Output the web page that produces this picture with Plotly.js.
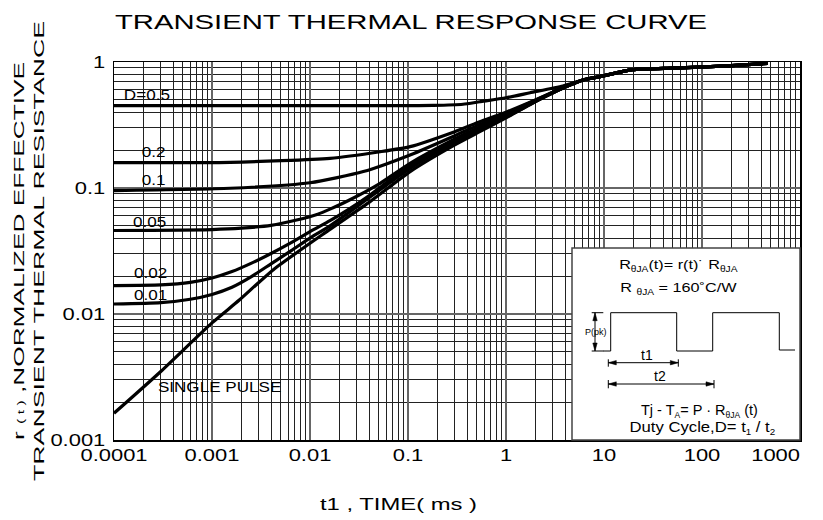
<!DOCTYPE html>
<html>
<head>
<meta charset="utf-8">
<script src="https://cdn.plot.ly/plotly-3.0.1.min.js"></script>
<style>
  html, body { margin: 0; padding: 0; background: #fff; }
  #chart { width: 823px; height: 520px; }
</style>
</head>
<body>
<div id="chart"></div>
<script>
// ---- data ----
const seriesNames = ['D=0.5', 'D=0.2', 'D=0.1', 'D=0.05', 'D=0.02', 'D=0.01', 'SINGLE PULSE'];

const tD05 = [0.0001, 0.1, 0.18, 0.364, 0.54, 1, 1.76, 3.8, 6.1, 9.1, 19.5, 50, 95, 200, 467];
const rD05 = [0.45, 0.45, 0.452, 0.462, 0.484, 0.52, 0.57, 0.645, 0.72, 0.765, 0.87, 0.895, 0.91, 0.935, 0.975];

const tD02 = [0.0001, 0.00153, 0.016, 0.052, 0.105, 0.3, 0.54, 1, 1.76, 3.8, 6.1, 9.1, 19.5, 50, 95, 200, 467];
const rD02 = [0.159, 0.160, 0.172, 0.194, 0.213, 0.28, 0.335, 0.40, 0.48, 0.625, 0.72, 0.765, 0.87, 0.895, 0.91, 0.935, 0.975];

const tD01 = [0.0001, 0.00153, 0.01, 0.035, 0.105, 0.3, 0.54, 1, 1.76, 3.8, 6.1, 9.1, 19.5, 50, 95, 200, 467];
const rD01 = [0.0953, 0.0995, 0.110, 0.135, 0.183, 0.26, 0.32, 0.39, 0.475, 0.625, 0.72, 0.765, 0.87, 0.895, 0.91, 0.935, 0.975];

const tD005 = [0.0001, 0.001, 0.002, 0.004, 0.0073, 0.012, 0.016, 0.025, 0.052, 0.105, 0.3, 0.54, 1, 1.76, 3.8, 6.1, 9.1, 19.5, 50, 95, 200, 467];
const rD005 = [0.046, 0.0468, 0.048, 0.0505, 0.0557, 0.062, 0.068, 0.080, 0.109, 0.157, 0.245, 0.305, 0.38, 0.47, 0.62, 0.72, 0.765, 0.87, 0.895, 0.91, 0.935, 0.975];

const tD002 = [0.0001, 0.0003, 0.0006, 0.001, 0.0016, 0.0025, 0.004, 0.0065, 0.01, 0.016, 0.025, 0.041, 0.065, 0.105, 0.3, 0.54, 1, 1.76, 3.8, 6.1, 9.1, 19.5, 50, 95, 200, 467];
const rD002 = [0.0168, 0.017, 0.0178, 0.0193, 0.0217, 0.0252, 0.0302, 0.037, 0.045, 0.055, 0.068, 0.088, 0.115, 0.15, 0.235, 0.295, 0.37, 0.465, 0.62, 0.72, 0.765, 0.87, 0.895, 0.91, 0.935, 0.975];

const tD001 = [0.0001, 0.0003, 0.0006, 0.001, 0.0016, 0.0025, 0.004, 0.0065, 0.01, 0.016, 0.025, 0.041, 0.065, 0.105, 0.3, 0.54, 1, 1.76, 3.8, 6.1, 9.1, 19.5, 50, 95, 200, 467];
const rD001 = [0.012, 0.0123, 0.0131, 0.0143, 0.0163, 0.0197, 0.025, 0.032, 0.040, 0.050, 0.064, 0.085, 0.11, 0.143, 0.23, 0.29, 0.365, 0.46, 0.62, 0.72, 0.765, 0.87, 0.895, 0.91, 0.935, 0.975];

const tSingle = [0.0001, 0.0003, 0.001, 0.0019, 0.00423, 0.016, 0.041, 0.105, 0.3, 0.54, 1, 1.76, 3.8, 6.1, 9.1, 19.5, 50, 95, 200, 467];
const rSingle = [0.00163, 0.0035, 0.0085, 0.0129, 0.0225, 0.047, 0.078, 0.135, 0.22, 0.28, 0.36, 0.46, 0.62, 0.72, 0.765, 0.87, 0.895, 0.91, 0.935, 0.975];

const xTickVals = [0.0001, 0.001, 0.01, 0.1, 1, 10, 100, 1000];
const xTickText = ['0.0001', '0.001', '0.01', '0.1', '1', '10', '100', '1000'];
const yTickVals = [0.001, 0.01, 0.1, 1];
const yTickText = ['0.001', '0.01', '0.1', '1'];

const curveLabels = ['D=0.5', '0.2', '0.1', '0.05', '0.02', '0.01', 'SINGLE PULSE'];

// ---- build ----
const seriesT = [tD05, tD02, tD01, tD005, tD002, tD001, tSingle];
const seriesR = [rD05, rD02, rD01, rD005, rD002, rD001, rSingle];

const traces = seriesT.map((t, i) => ({
  x: t, y: seriesR[i], name: seriesNames[i], type: 'scatter', mode: 'lines',
  line: { color: '#000', width: 3.2, shape: 'spline', smoothing: 0.6 },
  hoverinfo: 'skip'
}));

function minorVals(lo, hi) {
  const v = [];
  for (let e = lo; e < hi; e++) for (let m = 2; m <= 9; m++) v.push(m * Math.pow(10, e));
  return v;
}

// plot-area pixel -> paper helpers (plot area: x 114..800, y 62..440)
const PL = 114, PR = 800, PT = 62, PB = 440;
const px = x => (x - PL) / (PR - PL);
const py = y => (PB - y) / (PB - PT);

const fontFam = 'Liberation Sans, Arial, Helvetica, sans-serif';

// curve labels (centre x, centre y in pixels)
const labelPos = [[147, 95], [154, 152], [154, 180], [149.5, 222], [150.5, 273], [150, 295], [219.5, 387]];
const annotations = curveLabels.map((txt, i) => ({
  xref: 'paper', yref: 'paper', x: px(labelPos[i][0]), y: py(labelPos[i][1]),
  xanchor: 'center', yanchor: 'middle', text: txt, showarrow: false,
  font: { size: 14, color: '#000', family: fontFam }
}));
const nCurveLabels = annotations.length;

// inset texts (small lowered spans stand in for subscripts)
const sub = s => '<span style="font-size:8.5px;baseline-shift:-3px">' + s + '</span>';
const insetTexts = [
  { x: 678, y: 265, text: 'R' + sub('θJA') + '(t)= r(t)˙ R' + sub('θJA'), size: 13.5, f: 1.2 },
  { x: 678.5, y: 288, text: 'R ' + sub('θJA') + ' = 160˚C/W', size: 13.5, f: 1.2 },
  { x: 596, y: 331.7, text: 'P(pk)', size: 9, f: 1 },
  { x: 647, y: 355, text: 't1', size: 14, f: 1 },
  { x: 660, y: 375.5, text: 't2', size: 14, f: 1 },
  { x: 699, y: 410.7, text: 'Tj - T' + sub('A') + '= P · R' + sub('θJA') + ' (t)', size: 14.5, f: 1.0 },
  { x: 702.5, y: 427.7, text: 'Duty Cycle,D= t' + sub('1') + ' / t' + sub('2'), size: 14.5, f: 1.15 }
];
insetTexts.forEach(o => annotations.push({
  xref: 'paper', yref: 'paper', x: px(o.x), y: py(o.y), xanchor: 'center', yanchor: 'middle', showarrow: false,
  text: o.text, font: { size: o.size, color: '#000', family: fontFam }
}));

const line = (x0, y0, x1, y1, w) => ({ type: 'line', xref: 'paper', yref: 'paper',
  x0: px(x0), y0: py(y0), x1: px(x1), y1: py(y1), layer: 'above', line: { color: '#000', width: w || 1 } });
const poly = (pts) => ({ type: 'path', xref: 'paper', yref: 'paper', layer: 'above',
  path: pts.map((p, i) => (i ? 'L' : 'M') + px(p[0]) + ',' + py(p[1])).join(' ') + ' Z',
  fillcolor: '#000', line: { color: '#000', width: 0.5 } });
function hArrow(x0, x1, y) {
  return [line(x0, y, x1, y),
    poly([[x0, y], [x0 + 8, y - 2.2], [x0 + 8, y + 2.2]]),
    poly([[x1, y], [x1 - 8, y - 2.2], [x1 - 8, y + 2.2]])];
}
function vArrow(x, y0, y1) {
  return [line(x, y0, x, y1),
    poly([[x, y0], [x - 2.2, y0 + 8], [x + 2.2, y0 + 8]]),
    poly([[x, y1], [x - 2.2, y1 - 8], [x + 2.2, y1 - 8]])];
}

const pulsePts = [[603, 351], [610.7, 351], [610.7, 312.7], [676.7, 312.7], [676.7, 351], [712.7, 351],
  [712.7, 312.7], [779.3, 312.7], [779.3, 350], [795, 350]];
const pulsePath = pulsePts.map((p, i) => (i ? 'L' : 'M') + px(p[0]) + ',' + py(p[1])).join(' ');

const shapes = [
  { type: 'rect', xref: 'paper', yref: 'paper', x0: px(572), x1: px(800), y0: py(440), y1: py(248),
    layer: 'above', fillcolor: '#fff', line: { color: '#444', width: 1.5 } },
  { type: 'path', xref: 'paper', yref: 'paper', path: pulsePath, layer: 'above', line: { color: '#000', width: 1 } },
  line(591.7, 312.7, 603.3, 312.7), line(591.7, 351, 603.3, 351),
  line(608.3, 359.3, 608.3, 366.7), line(678.3, 359.3, 678.3, 366.7),
  line(608.3, 380, 608.3, 388.3), line(714, 380, 714, 388.3),
  ...hArrow(608.3, 678.3, 362.7), ...hArrow(608.3, 714, 384), ...vArrow(595, 312.7, 351)
];

const axisCommon = {
  type: 'log', ticks: '', showline: true, linecolor: '#000', linewidth: 1.5, mirror: true,
  showgrid: true, gridcolor: '#666', gridwidth: 1.6, zeroline: false,
  tickfont: { size: 16, color: '#000', family: fontFam }
};

const layout = {
  width: 823, height: 520,
  margin: { l: PL, r: 823 - PR, t: PT, b: 520 - PB, pad: 0 },
  paper_bgcolor: '#fff', plot_bgcolor: '#fff',
  font: { family: fontFam, color: '#000' },
  showlegend: false,
  title: { text: 'TRANSIENT THERMAL RESPONSE CURVE', font: { size: 21, color: '#000', family: fontFam },
    xref: 'paper', x: px(411), xanchor: 'center', yref: 'container', y: 1 - 22 / 520, yanchor: 'middle' },
  xaxis: Object.assign({}, axisCommon, {
    range: [-4, 3], tickvals: xTickVals, ticktext: xTickText, ticklabelstandoff: 0,
    minor: { tickvals: minorVals(-4, 3), showgrid: true, gridcolor: '#222', gridwidth: 1, ticks: '' },
    title: { text: 't1 , TIME( ms )', font: { size: 17, color: '#000', family: fontFam }, standoff: 35 }
  }),
  yaxis: Object.assign({}, axisCommon, {
    range: [-3, 0], tickvals: yTickVals, ticktext: yTickText, ticklabelstandoff: 4,
    minor: { tickvals: minorVals(-3, 0), showgrid: true, gridcolor: '#222', gridwidth: 1, ticks: '' },
    title: {
      text: 'r <span style="font-size:9px">( t )</span> ,NORMALIZED EFFECTIVE<br>TRANSIENT THERMAL RESISTANCE',
      font: { size: 15, color: '#000', family: fontFam }, standoff: 17 }
  }),
  shapes: shapes,
  annotations: annotations
};

// The reference's lettering is horizontally stretched; reproduce it with SVG textLength.
function natLen(el) {
  let n = el.getAttribute('data-nat');
  if (n === null) { n = el.getComputedTextLength(); el.setAttribute('data-nat', n); }
  return +n;
}
function fitText(el, len) {
  if (!el) return;
  natLen(el);
  el.setAttribute('textLength', len.toFixed(1));
  el.setAttribute('lengthAdjust', 'spacingAndGlyphs');
}
function scaleText(el, f) {
  if (!el || f === 1) return;
  fitText(el, natLen(el) * f);
}
function stretchAll(gd) {
  fitText(gd.querySelector('.gtitle'), 592);
  const xt = gd.querySelector('.xtitle');
  if (xt) { fitText(xt, 157); xt.setAttribute('x', 398.5); }
  const yl = gd.querySelectorAll('.ytitle tspan.line');
  if (yl.length === 2) { fitText(yl[0], 378); fitText(yl[1], 460); }
  gd.querySelectorAll('.xtick text, .ytick text').forEach(el => scaleText(el, 1.37));
  // the last x label sits inside the frame in the reference (right-aligned to the last tick)
  gd.querySelectorAll('.xtick text').forEach(el => {
    if (el.textContent === xTickText[xTickText.length - 1]) el.setAttribute('text-anchor', 'end');
  });
  for (let i = 0; i < nCurveLabels; i++) {
    scaleText(gd.querySelector('.annotation[data-index="' + i + '"] text.annotation-text'), 1.22);
  }
  insetTexts.forEach((o, k) => {
    scaleText(gd.querySelector('.annotation[data-index="' + (nCurveLabels + k) + '"] text.annotation-text'), o.f);
  });
}

const gdEl = document.getElementById('chart');
Plotly.newPlot(gdEl, traces, layout, { staticPlot: true, displayModeBar: false }).then(gd => {
  stretchAll(gd);
  gd.on('plotly_afterplot', () => stretchAll(gd));
  requestAnimationFrame(() => stretchAll(gd));
  setTimeout(() => stretchAll(gd), 0);
});
</script>
</body>
</html>
